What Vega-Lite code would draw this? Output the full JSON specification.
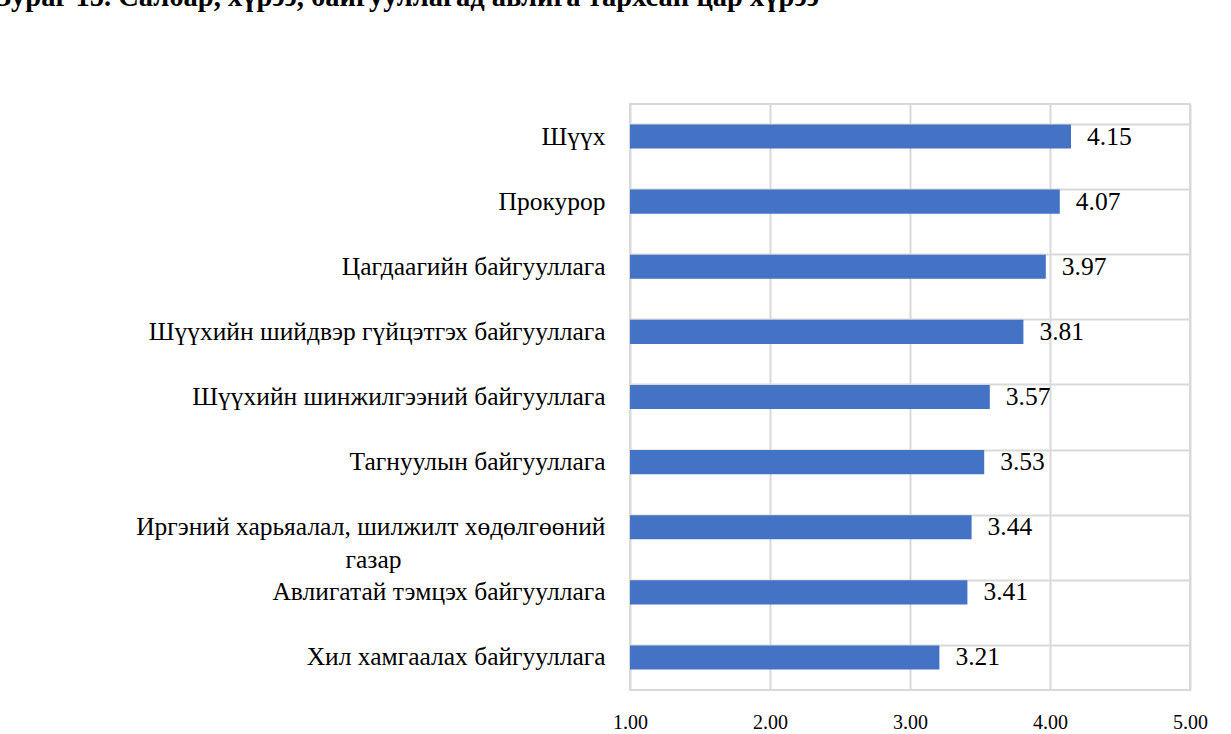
{
  "$schema": "https://vega.github.io/schema/vega-lite/v6.json",
  "width": 560,
  "height": 586,
  "autosize": "none",
  "padding": {"left": 630, "top": 104, "right": 41, "bottom": 44},
  "background": "white",
  "title": {
    "text": "Зураг 15. Салбар, хүрээ, байгууллагад авлига тархсан цар хүрээ",
    "anchor": "start",
    "frame": "group",
    "dx": -634,
    "offset": 70,
    "baseline": "alphabetic",
    "font": "Liberation Serif",
    "fontSize": 28.5,
    "fontWeight": "bold",
    "color": "#000000"
  },
  "config": {
    "view": {"stroke": "#d9d9d9", "strokeWidth": 2},
    "font": "Liberation Serif"
  },
  "data": {
    "values": [
      {"org": "Шүүх", "score": 4.15},
      {"org": "Прокурор", "score": 4.07},
      {"org": "Цагдаагийн байгууллага", "score": 3.97},
      {"org": "Шүүхийн шийдвэр гүйцэтгэх байгууллага", "score": 3.81},
      {"org": "Шүүхийн шинжилгээний байгууллага", "score": 3.57},
      {"org": "Тагнуулын байгууллага", "score": 3.53},
      {"org": "Иргэний харьяалал, шилжилт хөдөлгөөний газар", "score": 3.44},
      {"org": "Авлигатай тэмцэх байгууллага", "score": 3.41},
      {"org": "Хил хамгаалах байгууллага", "score": 3.21}
    ]
  },
  "encoding": {
    "y": {
      "field": "org",
      "type": "nominal",
      "sort": null,
      "scale": {"paddingInner": 0.63, "paddingOuter": 0.315},
      "axis": {
        "title": null,
        "domain": false,
        "ticks": false,
        "labelFontSize": 25.5,
        "labelColor": "#000000",
        "labelPadding": 25,
        "labelLimit": 620,
        "labelExpr": "datum.label == 'Иргэний харьяалал, шилжилт хөдөлгөөний газар' ? ['Иргэний харьяалал, шилжилт хөдөлгөөний', 'газар\u2003\u2003\u2003\u2003\u2003\u2003\u2003\u2003\u200b'] : datum.label",
        "labelLineHeight": 33,
        "grid": true,
        "gridColor": "#d9d9d9",
        "gridWidth": 2,
        "bandPosition": 0
      }
    },
    "x": {
      "field": "score",
      "type": "quantitative",
      "scale": {"domain": [1, 5]},
      "axis": {
        "title": null,
        "values": [1, 2, 3, 4, 5],
        "format": ".2f",
        "domain": false,
        "ticks": false,
        "labelFlush": false,
        "labelFontSize": 20,
        "labelColor": "#000000",
        "labelPadding": 22,
        "grid": true,
        "gridColor": "#d9d9d9",
        "gridWidth": 2
      }
    }
  },
  "layer": [
    {"mark": {"type": "bar", "color": "#4472C4"}, "encoding": {"x2": {"datum": 1}}},
    {
      "mark": {"type": "text", "align": "left", "dx": 16, "fontSize": 25.5, "color": "#000000"},
      "encoding": {"text": {"field": "score", "type": "quantitative", "format": ".2f"}}
    }
  ]
}
